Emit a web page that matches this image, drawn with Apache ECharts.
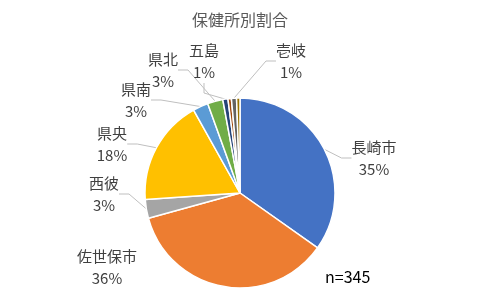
<!DOCTYPE html>
<html><head><meta charset="utf-8">
<script src="https://cdn.jsdelivr.net/npm/echarts@6/dist/echarts.min.js"></script>
<style>html,body{margin:0;padding:0;background:#fff}#c{width:480px;height:305px}</style>
</head><body><div id="c"></div>
<script>
const categories = ['長崎市','佐世保市','西彼','県央','県南','県北','五島','上五島','壱岐','対馬'];
const counts = [120,124,11,62,9,9,3,2,3,2];
const colors = ['#4472C4','#ED7D31','#A5A5A5','#FFC000','#5B9BD5','#70AD47','#264478','#9E480E','#636363','#997300'];
const hiddenLabels = ['上五島','対馬'];
const noLine = ['佐世保市'];
const titleText = '保健所別割合';
const noteText = 'n=345';

const labelPos = {
  '長崎市':[374,158], '佐世保市':[107,267], '西彼':[104,194], '県央':[112,144],
  '県南':[136,100], '県北':[163,70], '五島':[204,61], '壱岐':[291,61]
};

const chart = echarts.init(document.getElementById('c'), null, {renderer:'canvas'});
const font = '"Noto Sans CJK JP","Noto Sans",sans-serif';
chart.setOption({
  animation:false,
  title:{text:titleText,left:'center',top:7,textStyle:{fontFamily:font,fontSize:16,fontWeight:'normal',color:'#595959'}},
  graphic:[{type:'text',left:325,top:269,style:{text:noteText,fontFamily:font,fontSize:16,fill:'#000'}}],
  series:[{
    type:'pie',
    center:[240,193],
    radius:95,
    startAngle:90,
    clockwise:true,
    percentPrecision:0,
    avoidLabelOverlap:false,
    itemStyle:{borderColor:'#fff',borderWidth:1.5},
    label:{show:true,formatter:'{b}\n{d}%',fontFamily:font,fontSize:15,lineHeight:22,color:'#404040',align:'center'},
    labelLine:{show:true,length:10,length2:10,lineStyle:{color:'#BFBFBF',width:1}},
    labelLayout:function(p){
      const pos = labelPos[categories[p.dataIndex]];
      if(!pos) return {};
      return {x:pos[0],y:pos[1],align:'center',verticalAlign:'middle'};
    },
    data:categories.map((n,i)=>{
      const hide = hiddenLabels.indexOf(n)>=0;
      const line = !hide && noLine.indexOf(n)<0;
      return {name:n,value:counts[i],itemStyle:{color:colors[i]},
        label:{show:!hide},labelLine:{show:line}};
    })
  }]
});
</script></body></html>
